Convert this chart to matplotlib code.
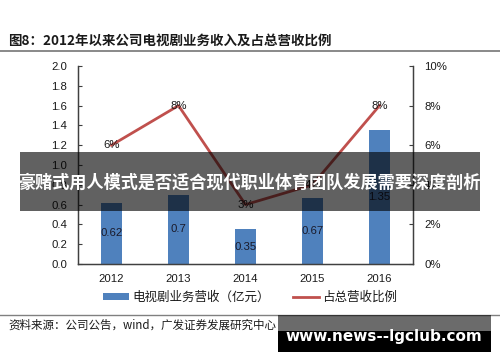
import matplotlib
matplotlib.use("Agg")
import matplotlib.pyplot as plt
from matplotlib.patches import Rectangle, Patch
from matplotlib.lines import Line2D
from matplotlib.ticker import FuncFormatter, MultipleLocator

plt.rcParams['font.family'] = ['Liberation Sans', 'Noto Sans CJK SC', 'DejaVu Sans']
CJK = ['Noto Sans CJK SC', 'DejaVu Sans']

years = ['2012', '2013', '2014', '2015', '2016']
revenue = [0.62, 0.70, 0.35, 0.67, 1.35]          # 亿元
share = [0.06, 0.08, 0.03, 0.04, 0.08]            # 占总营收比例
share_labels = ['6%', '8%', '3%', '4%', '8%']

title = '图8：2012年以来公司电视剧业务收入及占总营收比例'
legend_bar = '电视剧业务营收（亿元）'
legend_line = '占总营收比例'
source = '资料来源：公司公告，wind，广发证券发展研究中心'
banner = '豪赌式用人模式是否适合现代职业体育团队发展需要深度剖析'
watermark = 'www.news--lgclub.com'

W, H = 500, 362
fig = plt.figure(figsize=(W / 100, H / 100), dpi=100)
fig.patch.set_facecolor('white')

def fx(px):
    return px / W

def fy(py):
    return 1 - py / H

ax = fig.add_axes([fx(78), fy(264), fx(413) - fx(78), fy(66) - fy(264)])
x = list(range(len(years)))
bars = ax.bar(x, revenue, width=0.31, color='#4F81BD', zorder=2)
ax.set_xlim(-0.5, len(years) - 0.5)
ax.set_ylim(0, 2.0)
ax.yaxis.set_major_locator(MultipleLocator(0.2))
ax.yaxis.set_major_formatter(FuncFormatter(lambda v, p: f'{v:.1f}'))
ax.set_xticks(x)
ax.set_xticklabels(years)
ax.spines['top'].set_visible(False)
for s in ['left', 'bottom', 'right']:
    ax.spines[s].set_color('#404040')
    ax.spines[s].set_linewidth(1.0)
ax.tick_params(axis='both', direction='in', length=3, width=0.8, color='#404040',
               labelsize=8.2, labelcolor='#1a1a1a')
ax.tick_params(axis='y', pad=8)
ax.tick_params(axis='x', pad=7)

for xi, v in zip(x, revenue):
    ax.text(xi, v / 2, f'{v:g}', ha='center', va='center', fontsize=8.2,
            color='#1a1a2a', zorder=4)

ax2 = ax.twinx()
ax2.set_ylim(0, 0.10)
ax2.yaxis.set_major_locator(MultipleLocator(0.02))
ax2.yaxis.set_major_formatter(FuncFormatter(lambda v, p: f'{v * 100:.0f}%'))
ax2.spines['top'].set_visible(False)
for s in ['left', 'bottom', 'right']:
    ax2.spines[s].set_color('#404040')
ax2.tick_params(axis='y', direction='in', length=3, width=0.8, color='#404040',
                labelsize=8.2, labelcolor='#1a1a1a', pad=8)
ax2.plot(x, share, color='#C0504D', lw=2.0, zorder=3)
for xi, v, lab in zip(x, share, share_labels):
    ax2.text(xi, v, lab, ha='center', va='center', fontsize=8.2, color='#1a1a1a', zorder=5)

# title and separators
fig.text(fx(8), fy(41), title, ha='left', va='center', fontsize=9.7, fontweight='bold',
         family=CJK, color='#1a1a1a')
fig.add_artist(Line2D([0, 1], [fy(51), fy(51)], color='#808080', lw=1.3))
fig.add_artist(Line2D([0, 1], [fy(315), fy(315)], color='#808080', lw=1.0))

# legend
handles = [Patch(facecolor='#4F81BD', edgecolor='none'),
           Line2D([0], [0], color='#C0504D', lw=2.0)]
leg = fig.legend(handles, [legend_bar, legend_line], loc='center',
                 bbox_to_anchor=(fx(250), fy(297)), ncol=2, frameon=False,
                 prop={'family': CJK, 'size': 9}, handlelength=2.1, handleheight=0.5,
                 handletextpad=0.3, columnspacing=1.8)
for t in leg.get_texts():
    t.set_color('#1a1a1a')

fig.text(fx(8), fy(325), source, ha='left', va='center', fontsize=8.3, family=CJK,
         color='#1a1a1a')

# banner overlay
fig.add_artist(Rectangle((fx(20), fy(211)), fx(480) - fx(20), fy(152) - fy(211),
                         transform=fig.transFigure, facecolor='black', alpha=0.62,
                         edgecolor='none', zorder=10))
fig.text(fx(249), fy(183), banner, ha='center', va='center', fontsize=12.3,
         fontweight='bold', family=CJK, color='white', zorder=11)

# watermark
fig.add_artist(Rectangle((fx(278), fy(331)), fx(491) - fx(278), fy(315) - fy(331),
                         transform=fig.transFigure, facecolor='black', alpha=0.58,
                         edgecolor='none', zorder=10))
fig.add_artist(Rectangle((fx(278), fy(352)), fx(491) - fx(278), fy(331) - fy(352),
                         transform=fig.transFigure, facecolor='black',
                         edgecolor='none', zorder=10))
fig.text(fx(384), fy(337), watermark, ha='center', va='center', fontsize=11,
         fontweight='bold', family=['DejaVu Sans'], color='white', zorder=11)

fig.savefig('out.png', dpi=100)
